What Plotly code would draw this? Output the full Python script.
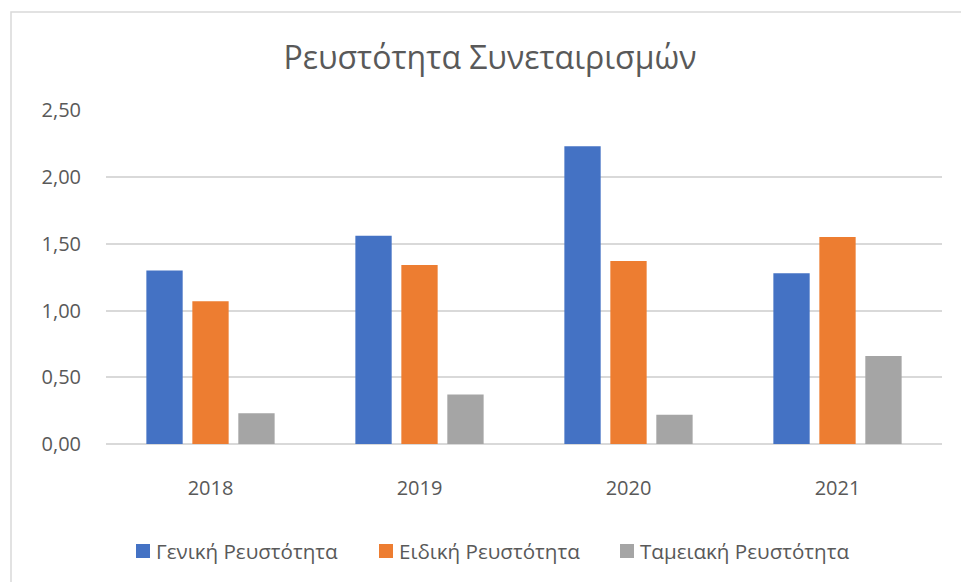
import plotly.graph_objects as go

# Data
years = ["2018", "2019", "2020", "2021"]
series_names = ["Γενική Ρευστότητα", "Ειδική Ρευστότητα", "Ταμειακή Ρευστότητα"]
general = [1.30, 1.56, 2.23, 1.28]
special = [1.07, 1.34, 1.37, 1.55]
cash = [0.23, 0.37, 0.22, 0.66]
y_ticks = [0, 0.5, 1.0, 1.5, 2.0, 2.5]

colors = ["#4472C4", "#ED7D31", "#A5A5A5"]
values = [general, special, cash]

W, H = 961, 582
L, R, T, B = 106, 19, 110, 138
PW, PH = W - L - R, H - T - B
FONT = "Open Sans"
TXT = "#595959"
GRID = "#D9D9D9"


def px_x(x):
    return (x - L) / PW


def px_y(y):
    return (H - B - y) / PH


fig = go.Figure()
for name, vals, col in zip(series_names, values, colors):
    fig.add_trace(go.Bar(x=years, y=vals, name=name, marker=dict(color=col, line=dict(width=0)),
                         showlegend=False))

shapes = [
    # chart frame
    dict(type="rect", xref="paper", yref="paper",
         x0=px_x(11), x1=px_x(990), y0=px_y(12), y1=px_y(610),
         line=dict(color=GRID, width=1.5), fillcolor="rgba(0,0,0,0)", layer="below"),
]
annotations = []

# legend: coloured squares with labels
legend_sq_x = [136, 379, 620]
legend_y = 551
for name, col, sx in zip(series_names, colors, legend_sq_x):
    shapes.append(dict(type="rect", xref="paper", yref="paper",
                       x0=px_x(sx), x1=px_x(sx + 14), y0=px_y(legend_y - 7), y1=px_y(legend_y + 7),
                       line=dict(width=0), fillcolor=col))
    annotations.append(dict(text=name, xref="paper", yref="paper", x=px_x(sx + 18), y=px_y(legend_y),
                            xanchor="left", yanchor="middle", showarrow=False,
                            font=dict(family=FONT, size=20.6, color=TXT)))

fig.update_layout(
    width=W, height=H,
    margin=dict(l=L, r=R, t=T, b=B, pad=0),
    paper_bgcolor="white", plot_bgcolor="white",
    separators=",.",
    barmode="group", bargap=0.34, bargroupgap=0.21,
    title=dict(text="Ρευστότητα Συνεταιρισμών", x=490 / W, xanchor="center",
               y=1 - 58 / H, yanchor="middle", xref="container", yref="container",
               font=dict(family=FONT, size=32, color=TXT)),
    font=dict(family=FONT, color=TXT),
    shapes=shapes,
    annotations=annotations,
    xaxis=dict(showgrid=False, showline=False, zeroline=False,
               ticks="outside", ticklen=26, tickcolor="rgba(0,0,0,0)",
               tickfont=dict(family=FONT, size=20, color=TXT)),
    yaxis=dict(range=[0, 2.502], tickvals=y_ticks, tickformat=".2f",
               showgrid=True, gridcolor=GRID, gridwidth=1.5,
               zeroline=True, zerolinecolor=GRID, zerolinewidth=1.5,
               showline=False, ticks="outside", ticklen=20, tickcolor="rgba(0,0,0,0)",
               tickfont=dict(family=FONT, size=20, color=TXT)),
)

fig.write_html("out.html")
